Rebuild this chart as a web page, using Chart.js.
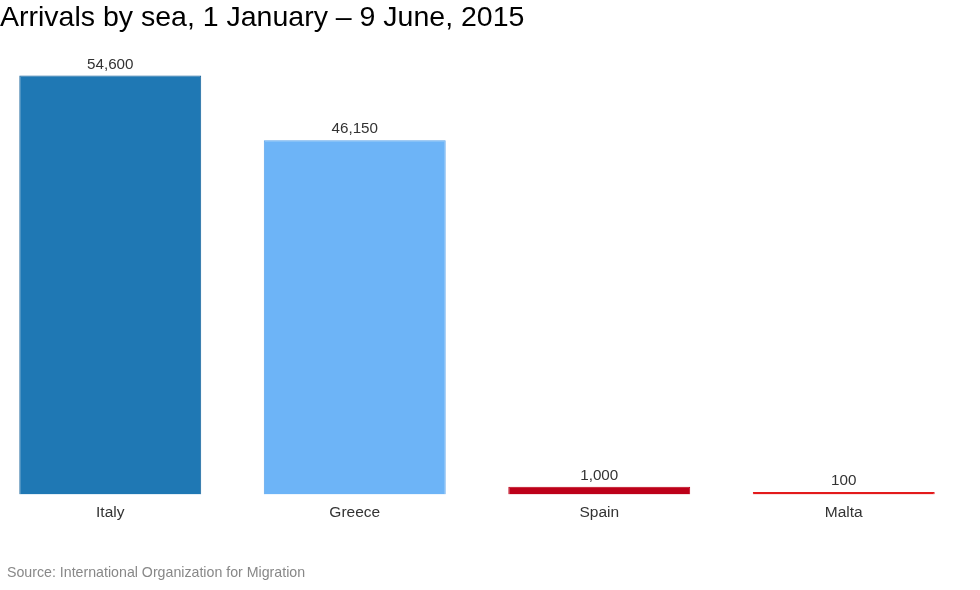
<!DOCTYPE html>
<html>
<head>
<meta charset="utf-8">
<script src="https://cdn.jsdelivr.net/npm/chart.js@4"></script>
<style>
  html, body { margin: 0; padding: 0; background: #fff; }
  #wrap { width: 980px; height: 590px; position: relative; overflow: hidden; }
  /* canvas is a bit wider and shifted left so the first bar can sit near the edge */
  #inner { position: absolute; left: -12px; top: 0; width: 992px; height: 590px; }
</style>
</head>
<body>
<div id="wrap"><div id="inner"><canvas id="chart"></canvas></div></div>
<script>
// data
const countries = ['Italy', 'Greece', 'Spain', 'Malta'];
const arrivals = [54600, 46150, 1000, 100];
const barColours = ['#1f78b4', '#6db4f7', '#bd0019', '#e31a1c'];
const borderColours = ['#16629a', '#5aa3ea', '#bd0019', '#e31a1c'];

const titleText = 'Arrivals by sea, 1 January \u2013 9 June, 2015';
const sourceText = 'Source: International Organization for Migration';

const FONT = '"Liberation Sans", Arial, sans-serif';
const SHIFT = 12;

// title, source and value labels drawn straight onto the canvas
const annotations = {
  id: 'annotations',
  afterDatasetsDraw(chart) {
    const ctx = chart.ctx;
    ctx.save();
    ctx.fillStyle = '#333';
    ctx.font = '15.2px ' + FONT;
    ctx.textAlign = 'center';
    ctx.textBaseline = 'middle';
    chart.getDatasetMeta(0).data.forEach((bar, i) => {
      ctx.fillText(arrivals[i].toLocaleString('en-US'), bar.x, bar.y - 11);
    });
    ctx.restore();
  },
  afterDraw(chart) {
    const ctx = chart.ctx;
    ctx.save();
    ctx.textAlign = 'left';
    ctx.textBaseline = 'middle';
    ctx.fillStyle = '#000';
    ctx.font = '28.5px ' + FONT;
    ctx.fillText(titleText, SHIFT, 18);
    ctx.fillStyle = '#888';
    ctx.font = '14.2px ' + FONT;
    ctx.fillText(sourceText, SHIFT + 7, 573);
    ctx.restore();
  }
};

new Chart(document.getElementById('chart'), {
  type: 'bar',
  data: {
    labels: countries,
    datasets: [{
      data: arrivals,
      backgroundColor: barColours,
      borderColor: borderColours,
      borderWidth: 1,
      minBarLength: 2.5,
      barPercentage: 0.744,
      categoryPercentage: 1
    }]
  },
  options: {
    responsive: true,
    maintainAspectRatio: false,
    animation: false,
    layout: { padding: { left: 0, right: 14, top: 57, bottom: 67 } },
    plugins: {
      legend: { display: false },
      tooltip: { enabled: false }
    },
    scales: {
      x: {
        grid: { display: false },
        border: { display: false },
        ticks: { color: '#333', font: { family: FONT, size: 15.5 }, padding: 1 }
      },
      y: {
        display: false,
        min: 0,
        max: 57000
      }
    }
  },
  plugins: [annotations]
});
</script>
</body>
</html>
